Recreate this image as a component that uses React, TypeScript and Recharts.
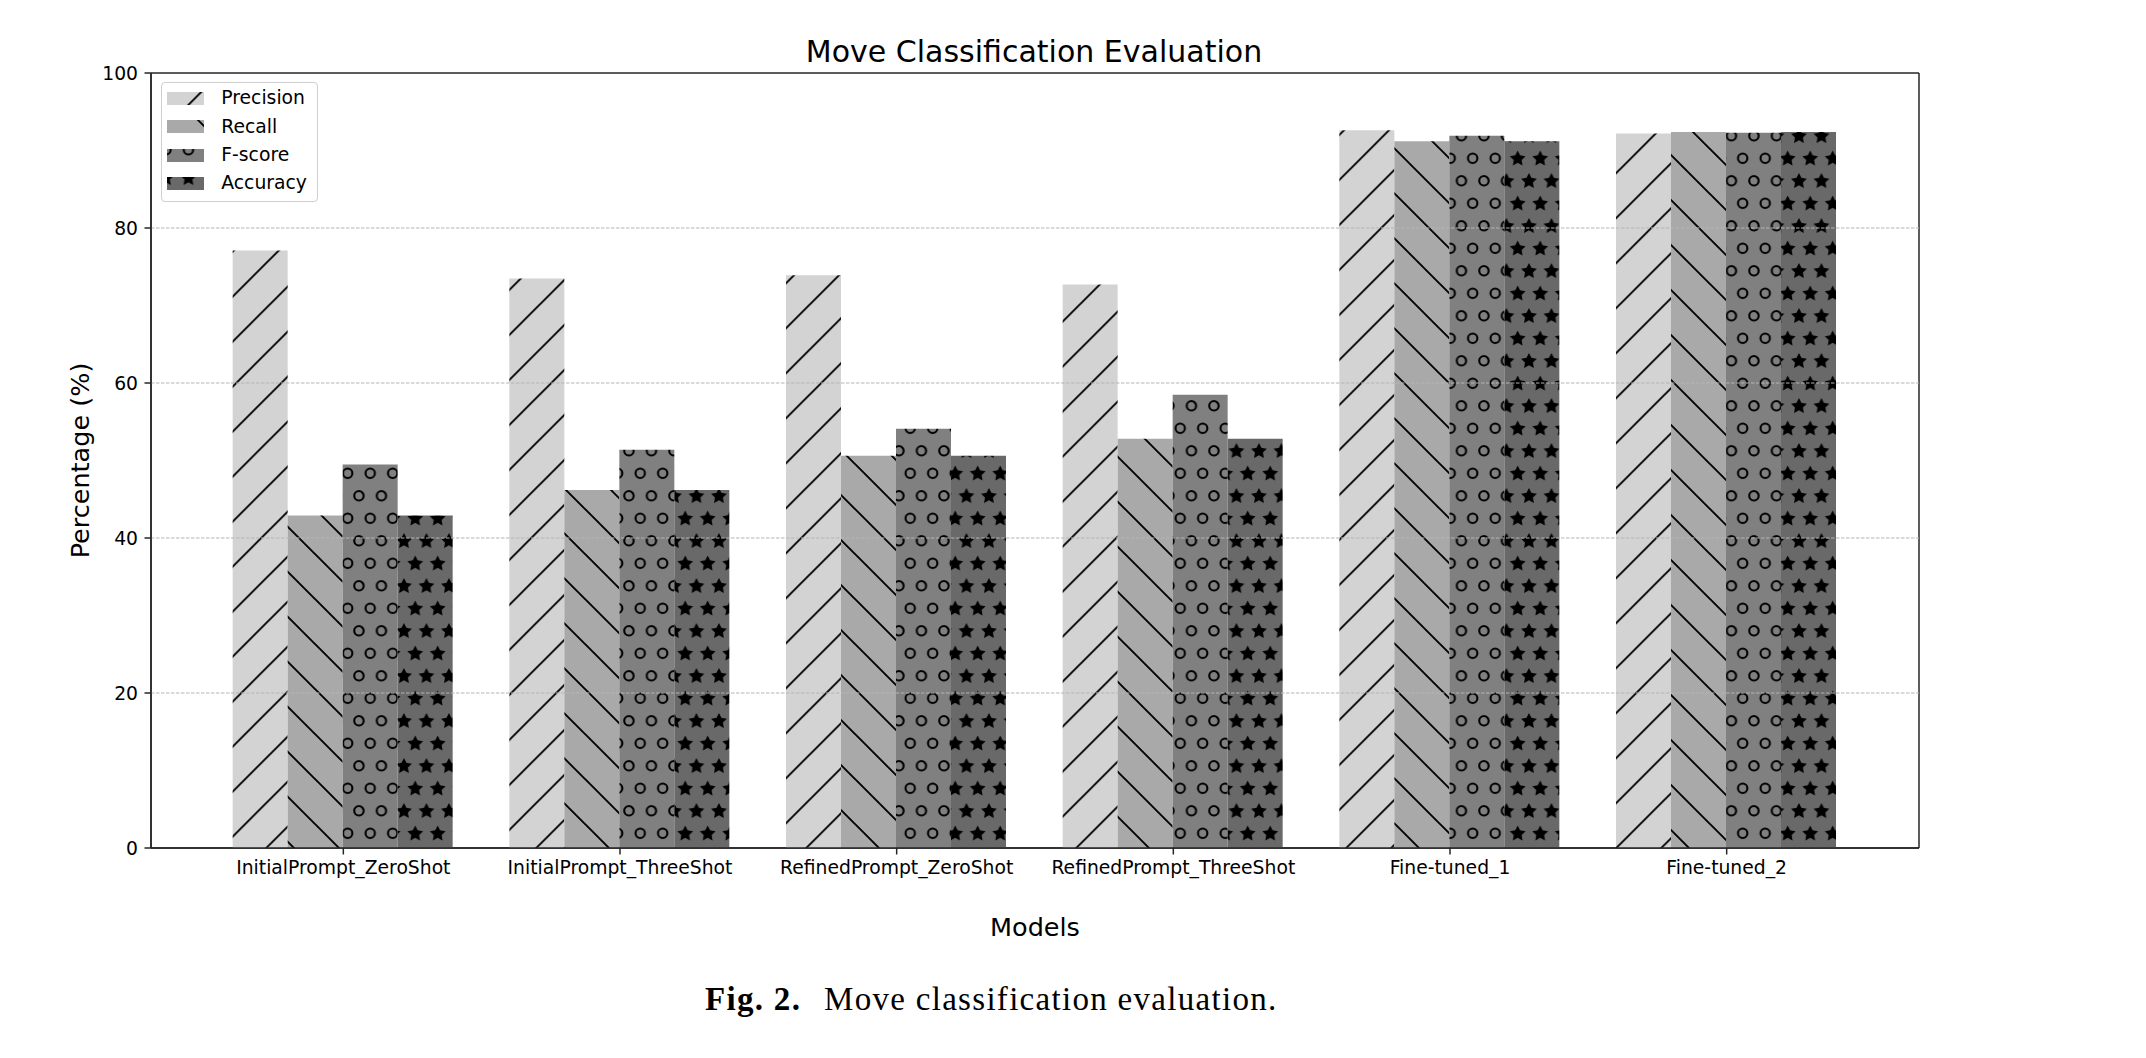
import {
  BarChart,
  Bar,
  XAxis,
  YAxis,
  CartesianGrid,
  ReferenceLine,
  Legend,
  Label,
} from "recharts";

/* ======================
 * DATA
 * ====================== */

const models = [
  "InitialPrompt_ZeroShot",
  "InitialPrompt_ThreeShot",
  "RefinedPrompt_ZeroShot",
  "RefinedPrompt_ThreeShot",
  "Fine-tuned_1",
  "Fine-tuned_2",
];

const precision = [77.1, 73.5, 73.9, 72.7, 92.6, 92.2];
const recall = [42.9, 46.2, 50.6, 52.8, 91.2, 92.4];
const fscore = [49.5, 51.4, 54.1, 58.5, 91.9, 92.3];
const accuracy = [42.9, 46.2, 50.6, 52.8, 91.2, 92.4];

const yTicks = [0, 20, 40, 60, 80, 100];
const gridLevels = [20, 40, 60, 80];

const chartData = models.map((model, i) => ({
  model,
  precision: precision[i],
  recall: recall[i],
  fscore: fscore[i],
  accuracy: accuracy[i],
}));

const SERIES = [
  { key: "precision", name: "Precision", fill: "url(#hatch-slash)" },
  { key: "recall", name: "Recall", fill: "url(#hatch-backslash)" },
  { key: "fscore", name: "F-score", fill: "url(#hatch-circles)" },
  { key: "accuracy", name: "Accuracy", fill: "url(#hatch-stars)" },
];

/* ======================
 * HELPERS
 * ====================== */

const FONT = "'DejaVu Sans', sans-serif";
const AXIS = "#262626";

function starPath(cx: number, cy: number, r: number): string {
  const pts: string[] = [];
  for (let k = 0; k < 10; k++) {
    const rad = k % 2 === 0 ? r : r * 0.5;
    const a = -Math.PI / 2 + (k * Math.PI) / 5;
    pts.push(`${(cx + rad * Math.cos(a)).toFixed(2)},${(cy + rad * Math.sin(a)).toFixed(2)}`);
  }
  return "M" + pts.join("L") + "Z";
}

const HatchDefs = () => (
  <defs>
    <pattern id="hatch-slash" patternUnits="userSpaceOnUse" width="45" height="45" x="0" y="34.3">
      <rect width="45" height="45" fill="#d3d3d3" />
      <path d="M-5,5 L5,-5 M0,45 L45,0 M40,50 L50,40" stroke="#000" strokeWidth="1.9" />
    </pattern>
    <pattern id="hatch-backslash" patternUnits="userSpaceOnUse" width="45" height="45" x="0" y="14">
      <rect width="45" height="45" fill="#a9a9a9" />
      <path d="M-5,40 L5,50 M0,0 L45,45 M40,-5 L50,5" stroke="#000" strokeWidth="1.9" />
    </pattern>
    <pattern id="hatch-circles" patternUnits="userSpaceOnUse" width="22.5" height="45" x="21.45" y="12.05">
      <rect width="22.5" height="45" fill="#808080" />
      <circle cx="11.25" cy="11.25" r="4.7" fill="none" stroke="#000" strokeWidth="2.1" />
      <circle cx="0" cy="33.75" r="4.7" fill="none" stroke="#000" strokeWidth="2.1" />
      <circle cx="22.5" cy="33.75" r="4.7" fill="none" stroke="#000" strokeWidth="2.1" />
    </pattern>
    <pattern id="hatch-stars" patternUnits="userSpaceOnUse" width="22.5" height="45" x="21.45" y="12.05">
      <rect width="22.5" height="45" fill="#696969" />
      <path d={starPath(11.25, 11.7, 8.3)} fill="#000" />
      <path d={starPath(0, 34.2, 8.3)} fill="#000" />
      <path d={starPath(22.5, 34.2, 8.3)} fill="#000" />
    </pattern>
  </defs>
);

const renderLegend = () => (
  <div
    style={{
      border: "1px solid #cfcfcf",
      borderRadius: 4,
      background: "#fff",
      width: 150,
      height: 116,
      boxSizing: "content-box",
      paddingTop: 1.5,
      paddingLeft: 4.8,
      fontFamily: FONT,
      fontSize: 18.75,
      color: "#000",
    }}
  >
    {SERIES.map((s) => (
      <div key={s.key} style={{ display: "flex", alignItems: "center", height: 28.3 }}>
        <svg width={37.5} height={13.1} style={{ display: "block" }}>
          <rect width={37.5} height={13.1} fill={s.fill} />
        </svg>
        <span style={{ marginLeft: 17, lineHeight: 1 }}>{s.name}</span>
      </div>
    ))}
  </div>
);

const renderYLabel = (props: any) => {
  const vb = props.viewBox || { x: 0, y: 73, width: 151, height: 775 };
  const cx = vb.x + 80;
  const cy = vb.y + vb.height / 2;
  return (
    <text
      x={cx}
      y={cy}
      textAnchor="middle"
      dominantBaseline="central"
      transform={`rotate(-90, ${cx}, ${cy})`}
      fontFamily={FONT}
      fontSize={25.5}
      fill="#000"
    >
      Percentage (%)
    </text>
  );
};

const renderXLabel = (props: any) => {
  const vb = props.viewBox || { x: 151, y: 848, width: 1768, height: 60 };
  return (
    <text
      x={vb.x + vb.width / 2}
      y={vb.y + 88}
      textAnchor="middle"
      fontFamily={FONT}
      fontSize={25.5}
      fill="#000"
    >
      Models
    </text>
  );
};

/* ======================
 * COMPONENT
 * ====================== */

const App = () => {
  return (
    <div
      style={{
        position: "absolute",
        left: 0,
        top: 0,
        width: 2146,
        height: 1058,
        background: "#fff",
      }}
    >
      <BarChart
        width={2146}
        height={1058}
        data={chartData}
        margin={{ top: 73, right: 227, bottom: 150, left: 0 }}
        barCategoryGap="10%"
        barGap={0}
        style={{ fontFamily: FONT }}
      >
        <CartesianGrid
          stroke={AXIS}
          strokeWidth={1.5}
          horizontalCoordinatesGenerator={({ offset }: any) => [offset.top, offset.top + offset.height]}
          verticalCoordinatesGenerator={({ offset }: any) => [offset.left, offset.left + offset.width]}
        />
        <XAxis
          dataKey="model"
          interval={0}
          height={60}
          padding={{ left: 54, right: 54 }}
          tickSize={6.5}
          tickMargin={6.5}
          axisLine={{ stroke: AXIS, strokeWidth: 1.5 }}
          tickLine={{ stroke: AXIS, strokeWidth: 1.5 }}
          tick={{ fill: "#000", fontSize: 18.75, fontFamily: FONT }}
        >
          <Label content={renderXLabel} />
        </XAxis>
        <YAxis
          domain={[0, 100]}
          ticks={yTicks}
          interval={0}
          width={151}
          tickSize={6.5}
          tickMargin={6.5}
          axisLine={{ stroke: AXIS, strokeWidth: 1.5 }}
          tickLine={{ stroke: AXIS, strokeWidth: 1.5 }}
          tick={{ fill: "#000", fontSize: 18.75, fontFamily: FONT }}
        >
          <Label content={renderYLabel} />
        </YAxis>
        <Legend
          layout="vertical"
          align="center"
          verticalAlign="middle"
          content={renderLegend}
          wrapperStyle={{ left: 161, top: 82, width: "auto", height: "auto" }}
        />
        {SERIES.map((s) => (
          <Bar
            key={s.key}
            dataKey={s.key}
            name={s.name}
            fill={s.fill}
            isAnimationActive={false}
          />
        ))}
        {gridLevels.map((v) => (
          <ReferenceLine
            key={v}
            y={v}
            stroke="#b5b5b5"
            strokeWidth={1}
            strokeDasharray="3.5 1.5"
          />
        ))}
      </BarChart>

      <svg
        width={2146}
        height={1058}
        style={{ position: "absolute", left: 0, top: 0, pointerEvents: "none" }}
      >
        <HatchDefs />
        <text
          x={1034}
          y={61.7}
          textAnchor="middle"
          fontFamily={FONT}
          fontSize={30}
          fill="#000"
        >
          Move Classification Evaluation
        </text>
        <text
          x={705}
          y={1010}
          fontFamily="'Liberation Serif', serif"
          fontSize={33}
          letterSpacing={1.3}
          fill="#000"
        >
          <tspan fontWeight="bold">Fig. 2.</tspan>
          <tspan x={824}>Move classification evaluation.</tspan>
        </text>
      </svg>
    </div>
  );
};

export default App;
